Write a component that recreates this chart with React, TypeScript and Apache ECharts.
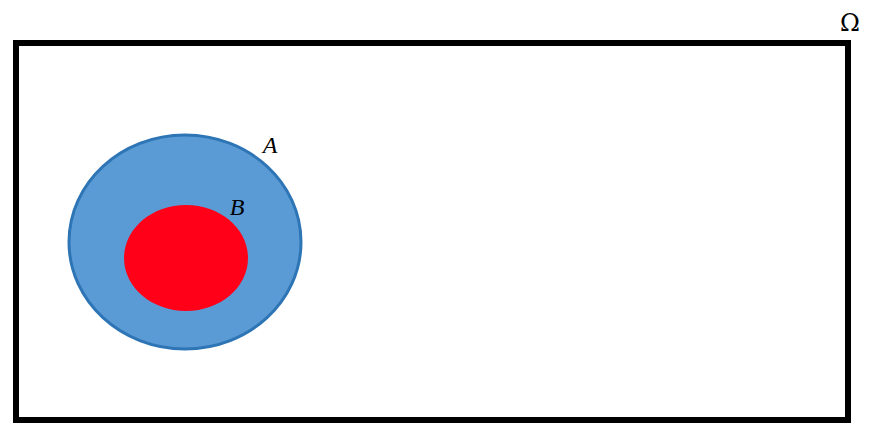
import { useEffect, useRef } from "react";
import * as echarts from "echarts";

const setNames = ["A", "B"];
const universeName = "Ω";

function App() {
  const chartRef = useRef(null);

  useEffect(() => {
    const chart = echarts.init(chartRef.current, null, { renderer: "svg" });

    const option = {
      animation: false,
      backgroundColor: "#fff",
      graphic: [
        {
          type: "rect",
          shape: { x: 16, y: 43, width: 832, height: 377 },
          style: { fill: "#fff", stroke: "#000", lineWidth: 6 },
        },
        {
          type: "text",
          x: 850,
          y: 23,
          style: { text: universeName, font: "24px 'DejaVu Serif'", fill: "#000", align: "center", verticalAlign: "middle" },
        },
        {
          type: "ellipse",
          shape: { cx: 185, cy: 242, rx: 116, ry: 107 },
          style: { fill: "#5b9bd5", stroke: "#2e75b6", lineWidth: 3 },
        },
        {
          type: "ellipse",
          shape: { cx: 186, cy: 258, rx: 62, ry: 53 },
          style: { fill: "#ff0018" },
        },
        {
          type: "text",
          x: 270,
          y: 145,
          style: { text: setNames[0], font: "italic 24px 'Liberation Serif'", fill: "#000", align: "center", verticalAlign: "middle" },
        },
        {
          type: "text",
          x: 237,
          y: 207,
          style: { text: setNames[1], font: "italic 24px 'Liberation Serif'", fill: "#000", align: "center", verticalAlign: "middle" },
        },
      ],
    };

    chart.setOption(option);

    return () => {
      chart.dispose();
    };
  }, []);

  return (
    <div
      ref={chartRef}
      style={{ position: "fixed", left: 0, top: 0, width: "872px", height: "439px" }}
    />
  );
}

export default App;
